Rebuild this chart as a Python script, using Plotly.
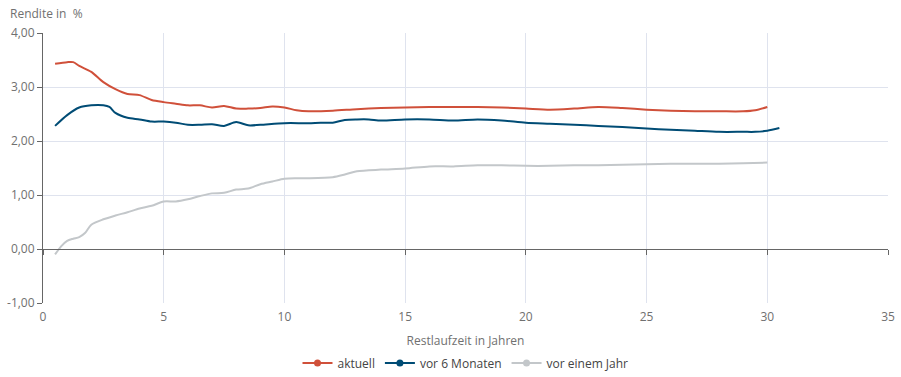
import plotly.graph_objects as go

# Restlaufzeit in Jahren / Rendite in %
x_akt = [0.5, 1, 1.25, 1.5, 2, 2.5, 3, 3.5, 4, 4.5, 5, 5.5, 6, 6.5, 7, 7.5, 8, 8.5, 9, 9.5, 10, 10.5, 11, 12, 13, 14, 15, 16, 17, 18, 19, 20, 21, 22, 23, 24, 25, 26, 27, 28, 29, 29.5, 30]
y_akt = [3.43, 3.46, 3.46, 3.39, 3.28, 3.09, 2.96, 2.87, 2.85, 2.76, 2.72, 2.69, 2.66, 2.66, 2.62, 2.65, 2.60, 2.60, 2.61, 2.64, 2.62, 2.57, 2.55, 2.56, 2.59, 2.61, 2.62, 2.63, 2.63, 2.63, 2.62, 2.60, 2.58, 2.60, 2.63, 2.61, 2.58, 2.56, 2.55, 2.55, 2.55, 2.57, 2.63]

x_6m = [0.5, 1, 1.5, 2, 2.5, 2.75, 3, 3.5, 4, 4.5, 5, 5.5, 6, 6.5, 7, 7.5, 8, 8.5, 9, 10, 11, 11.5, 12, 12.5, 13, 13.5, 14, 15, 16, 17, 18, 19, 20, 21, 22, 23, 24, 25, 26, 27, 28, 29, 29.5, 30, 30.5]
y_6m = [2.28, 2.48, 2.62, 2.66, 2.66, 2.63, 2.52, 2.43, 2.40, 2.36, 2.36, 2.34, 2.30, 2.30, 2.31, 2.28, 2.35, 2.29, 2.30, 2.33, 2.33, 2.34, 2.34, 2.39, 2.40, 2.40, 2.38, 2.40, 2.40, 2.38, 2.40, 2.38, 2.34, 2.32, 2.30, 2.28, 2.26, 2.23, 2.21, 2.19, 2.17, 2.17, 2.17, 2.19, 2.24]

x_1j = [0.5, 0.75, 1, 1.25, 1.5, 1.75, 2, 2.5, 3, 3.5, 4, 4.5, 5, 5.5, 6, 6.5, 7, 7.5, 8, 8.5, 9, 9.5, 10, 10.5, 11, 12, 12.5, 13, 14, 15, 16, 17, 18, 19, 20, 21, 22, 23, 24, 25, 26, 27, 28, 29, 30]
y_1j = [-0.10, 0.05, 0.15, 0.19, 0.22, 0.30, 0.45, 0.55, 0.62, 0.68, 0.75, 0.80, 0.88, 0.88, 0.92, 0.98, 1.03, 1.04, 1.10, 1.12, 1.20, 1.25, 1.30, 1.31, 1.31, 1.33, 1.38, 1.44, 1.47, 1.49, 1.53, 1.53, 1.55, 1.55, 1.54, 1.54, 1.55, 1.55, 1.56, 1.57, 1.58, 1.58, 1.58, 1.59, 1.60]

names = ["aktuell", "vor 6 Monaten", "vor einem Jahr"]
colors = ["#d0503a", "#004c75", "#c3c7ca"]

y_ticks = [-1, 0, 1, 2, 3, 4]
y_ticklabels = ["-1,00", "0,00", "1,00", "2,00", "3,00", "4,00"]
x_ticks = [0, 5, 10, 15, 20, 25, 30, 35]

fig = go.Figure()
for xs, ys, n, c in zip([x_akt, x_6m, x_1j], [y_akt, y_6m, y_1j], names, colors):
    fig.add_trace(go.Scatter(x=xs, y=ys, mode="lines", name=n, showlegend=False,
                             line=dict(color=c, width=2, shape="spline", smoothing=0.8)))
for n, c in zip(names, colors):
    fig.add_trace(go.Scatter(x=[None], y=[None], mode="lines+markers", name=n,
                             line=dict(color=c, width=2), marker=dict(color=c, size=7)))

# invisible trace on xaxis2 to create the zero line axis
fig.add_trace(go.Scatter(x=[None], y=[None], xaxis="x2", showlegend=False))

font_col = "#707070"
fig.update_layout(
    width=901, height=377,
    margin=dict(l=43, r=13, t=33, b=74, autoexpand=False),
    paper_bgcolor="white", plot_bgcolor="white",
    font=dict(family="Open Sans", size=12, color=font_col),
    xaxis=dict(range=[0, 35], tickvals=x_ticks, showgrid=True, gridcolor="#dfe3ee",
               gridwidth=1, zeroline=False, showline=False, ticks="", automargin=False,
               ticklabelstandoff=5,
               title=dict(text="Restlaufzeit in Jahren", font=dict(size=12, color=font_col), standoff=12),
               tickfont=dict(size=12, color=font_col)),
    xaxis2=dict(range=[0, 35], tickvals=x_ticks, overlaying="x", anchor="free", position=0.2,
                showline=True, linecolor="#666666", linewidth=1, ticks="outside", ticklen=5,
                tickcolor="#666666", showticklabels=False, showgrid=False, zeroline=False,
                automargin=False),
    yaxis=dict(range=[-1, 4], tickvals=y_ticks, ticktext=y_ticklabels, showgrid=True,
               gridcolor="#dfe3ee", zeroline=False, showline=True, linecolor="#666666",
               linewidth=1, ticks="outside", ticklen=5, tickcolor="#666666", automargin=False,
               tickfont=dict(size=12, color=font_col)),
    legend=dict(orientation="h", x=0.5, xanchor="center", y=-0.222, yanchor="middle",
                font=dict(size=12, color="#444444")),
    annotations=[dict(text="Rendite in  %", xref="paper", yref="paper", x=-0.042, y=1.074,
                      xanchor="left", yanchor="middle", showarrow=False,
                      font=dict(size=12, color=font_col))],
)

fig.write_html("out.html", config={"displayModeBar": False},
               post_script="document.body.style.margin='0px';")
